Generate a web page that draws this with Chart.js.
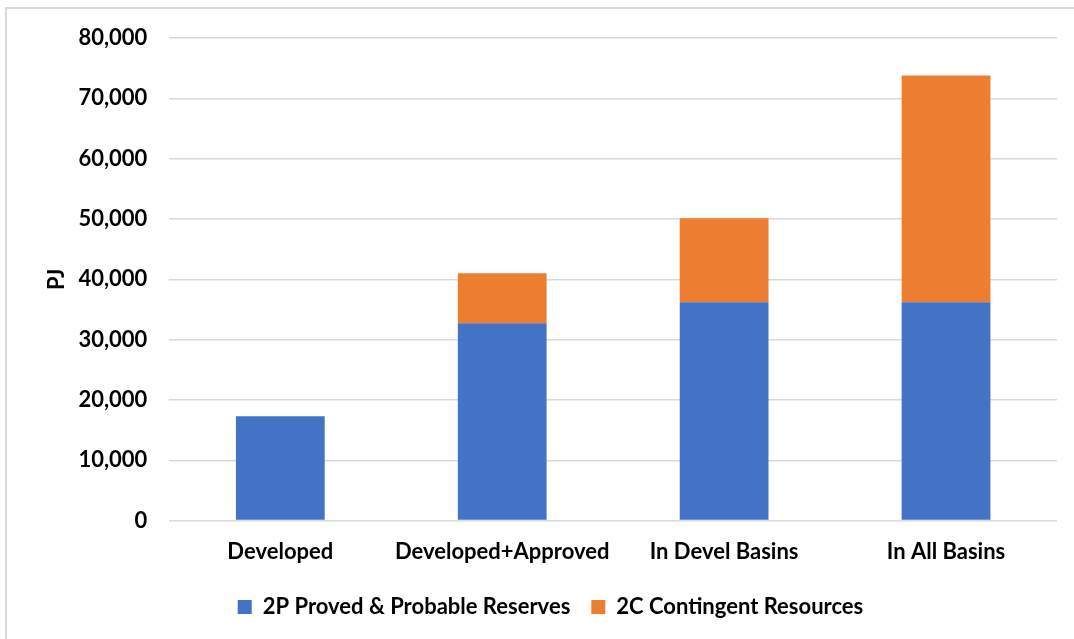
<!DOCTYPE html>
<html>
<head>
<meta charset="utf-8">
<script src="https://cdn.jsdelivr.net/npm/chart.js@4"></script>
<style>
  html, body { margin: 0; padding: 0; background: #fff; }
  .frame {
    position: absolute; left: 5px; top: 7px; width: 1200px; height: 800px;
    border-left: 2px solid #d9d9d9; border-top: 2px solid #d9d9d9;
  }
  .wrap { position: absolute; left: 0; top: 0; width: 1074px; height: 639px; }
</style>
</head>
<body>
<div class="frame"></div>
<div class="wrap"><canvas id="gasChart"></canvas></div>
<script>
const categories = ["Developed", "Developed+Approved", "In Devel Basins", "In All Basins"];
const reserves2P = [17300, 32700, 36200, 36200];
const contingent2C = [0, 8300, 13900, 37600];
const yTicks = [0, 10000, 20000, 30000, 40000, 50000, 60000, 70000, 80000];

Chart.defaults.font.family = "Lato";
Chart.defaults.font.weight = "bold";
Chart.defaults.font.size = 22;
Chart.defaults.color = "#000";

const ctx = document.getElementById("gasChart");
const gasChart = new Chart(ctx, {
  type: "bar",
  data: {
    labels: categories,
    datasets: [
      {
        label: "2P Proved & Probable Reserves",
        data: reserves2P,
        backgroundColor: "#4472C4",
        barPercentage: 0.4,
        categoryPercentage: 1,
      },
      {
        label: "2C Contingent Resources",
        data: contingent2C,
        backgroundColor: "#ED7D31",
        barPercentage: 0.4,
        categoryPercentage: 1,
      },
    ],
  },
  options: {
    responsive: true,
    maintainAspectRatio: false,
    animation: false,
    layout: {
      padding: { left: 44, right: 17, top: 38, bottom: 11 },
    },
    scales: {
      x: {
        stacked: true,
        grid: { display: false },
        border: { display: false },
        ticks: { padding: 10, maxRotation: 0, autoSkip: false },
      },
      y: {
        stacked: true,
        min: 0,
        max: 80000,
        afterBuildTicks: function (axis) {
          axis.ticks = yTicks.map(function (v) { return { value: v }; });
        },
        grid: { color: "#d9d9d9", lineWidth: 1.5, drawTicks: false },
        border: { display: false },
        ticks: {
          padding: 22,
          callback: function (value) {
            return value.toLocaleString("en-US");
          },
        },
        title: {
          display: true,
          text: "PJ",
          padding: { top: 0, bottom: -14 },
        },
      },
    },
    plugins: {
      legend: {
        position: "bottom",
        labels: {
          boxWidth: 14,
          boxHeight: 14,
          padding: 21,
        },
      },
      tooltip: { enabled: false },
    },
  },
});
</script>
</body>
</html>
